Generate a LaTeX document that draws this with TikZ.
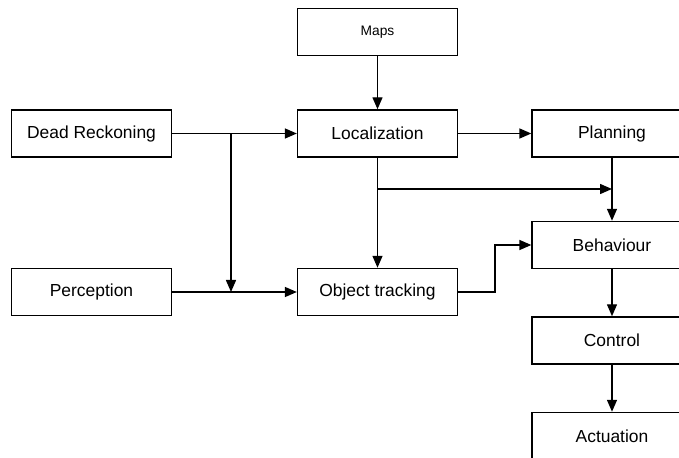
\documentclass[tikz,border=0pt]{standalone}
\usepackage{fontspec}
\setmainfont{Liberation Sans}
\usetikzlibrary{arrows.meta}

\tikzset{
  block/.style={draw, line width=0.9pt, minimum width=4cm, minimum height=1.18cm,
    inner sep=0pt, font=\fontsize{12.4}{15}\selectfont},
  flow/.style={-{Triangle[length=3mm,width=2.5mm]}, line width=1.05pt},
  wire/.style={line width=1.05pt},
}

\begin{document}
\begin{tikzpicture}[x=0.025cm,y=-0.025cm]
    \useasboundingbox (0,0) rectangle (679,458);
    \clip (0,0) rectangle (679,458);
    % Blocks
    \node[block, font=\fontsize{9.8}{12}\selectfont] (maps) at (377.5,32) {Maps};
    \node[block] (dead) at (91.5,133.5) {Dead Reckoning};
    \node[block] (loc) at (377.5,133.5) {Localization};
    \node[block] (plan) at (612,133.5) {Planning};
    \node[block] (perc) at (91.5,292) {Perception};
    \node[block] (obj) at (377.5,292) {Object tracking};
    \node[block] (beh) at (612,245) {Behaviour};
    \node[block] (ctrl) at (612,340.5) {Control};
    \node[block] (act) at (612,436) {Actuation};
    % Junction points
    \coordinate (split) at (231,133.5);
    \coordinate (tap) at (377.5,189);
    \coordinate (join) at (612,189);
    % Connectors
    \draw[flow] (maps) -- (loc);
    \draw[wire] (dead) -- (split);
    \draw[flow] (split) -- (loc);
    \draw[flow] (split) -- (split |- perc);
    \draw[flow] (perc) -- (obj);
    \draw[flow] (loc) -- (plan);
    \draw[flow] (loc) -- (obj);
    \draw[flow] (tap) -- (join); % Localization to behaviour line
    \draw[flow] (plan) -- (beh);
    \draw[flow] (obj.east) -- ++(37,0) |- (beh.west);
    \draw[flow] (beh) -- (ctrl);
    \draw[flow] (ctrl) -- (act);
\end{tikzpicture}
\end{document}
